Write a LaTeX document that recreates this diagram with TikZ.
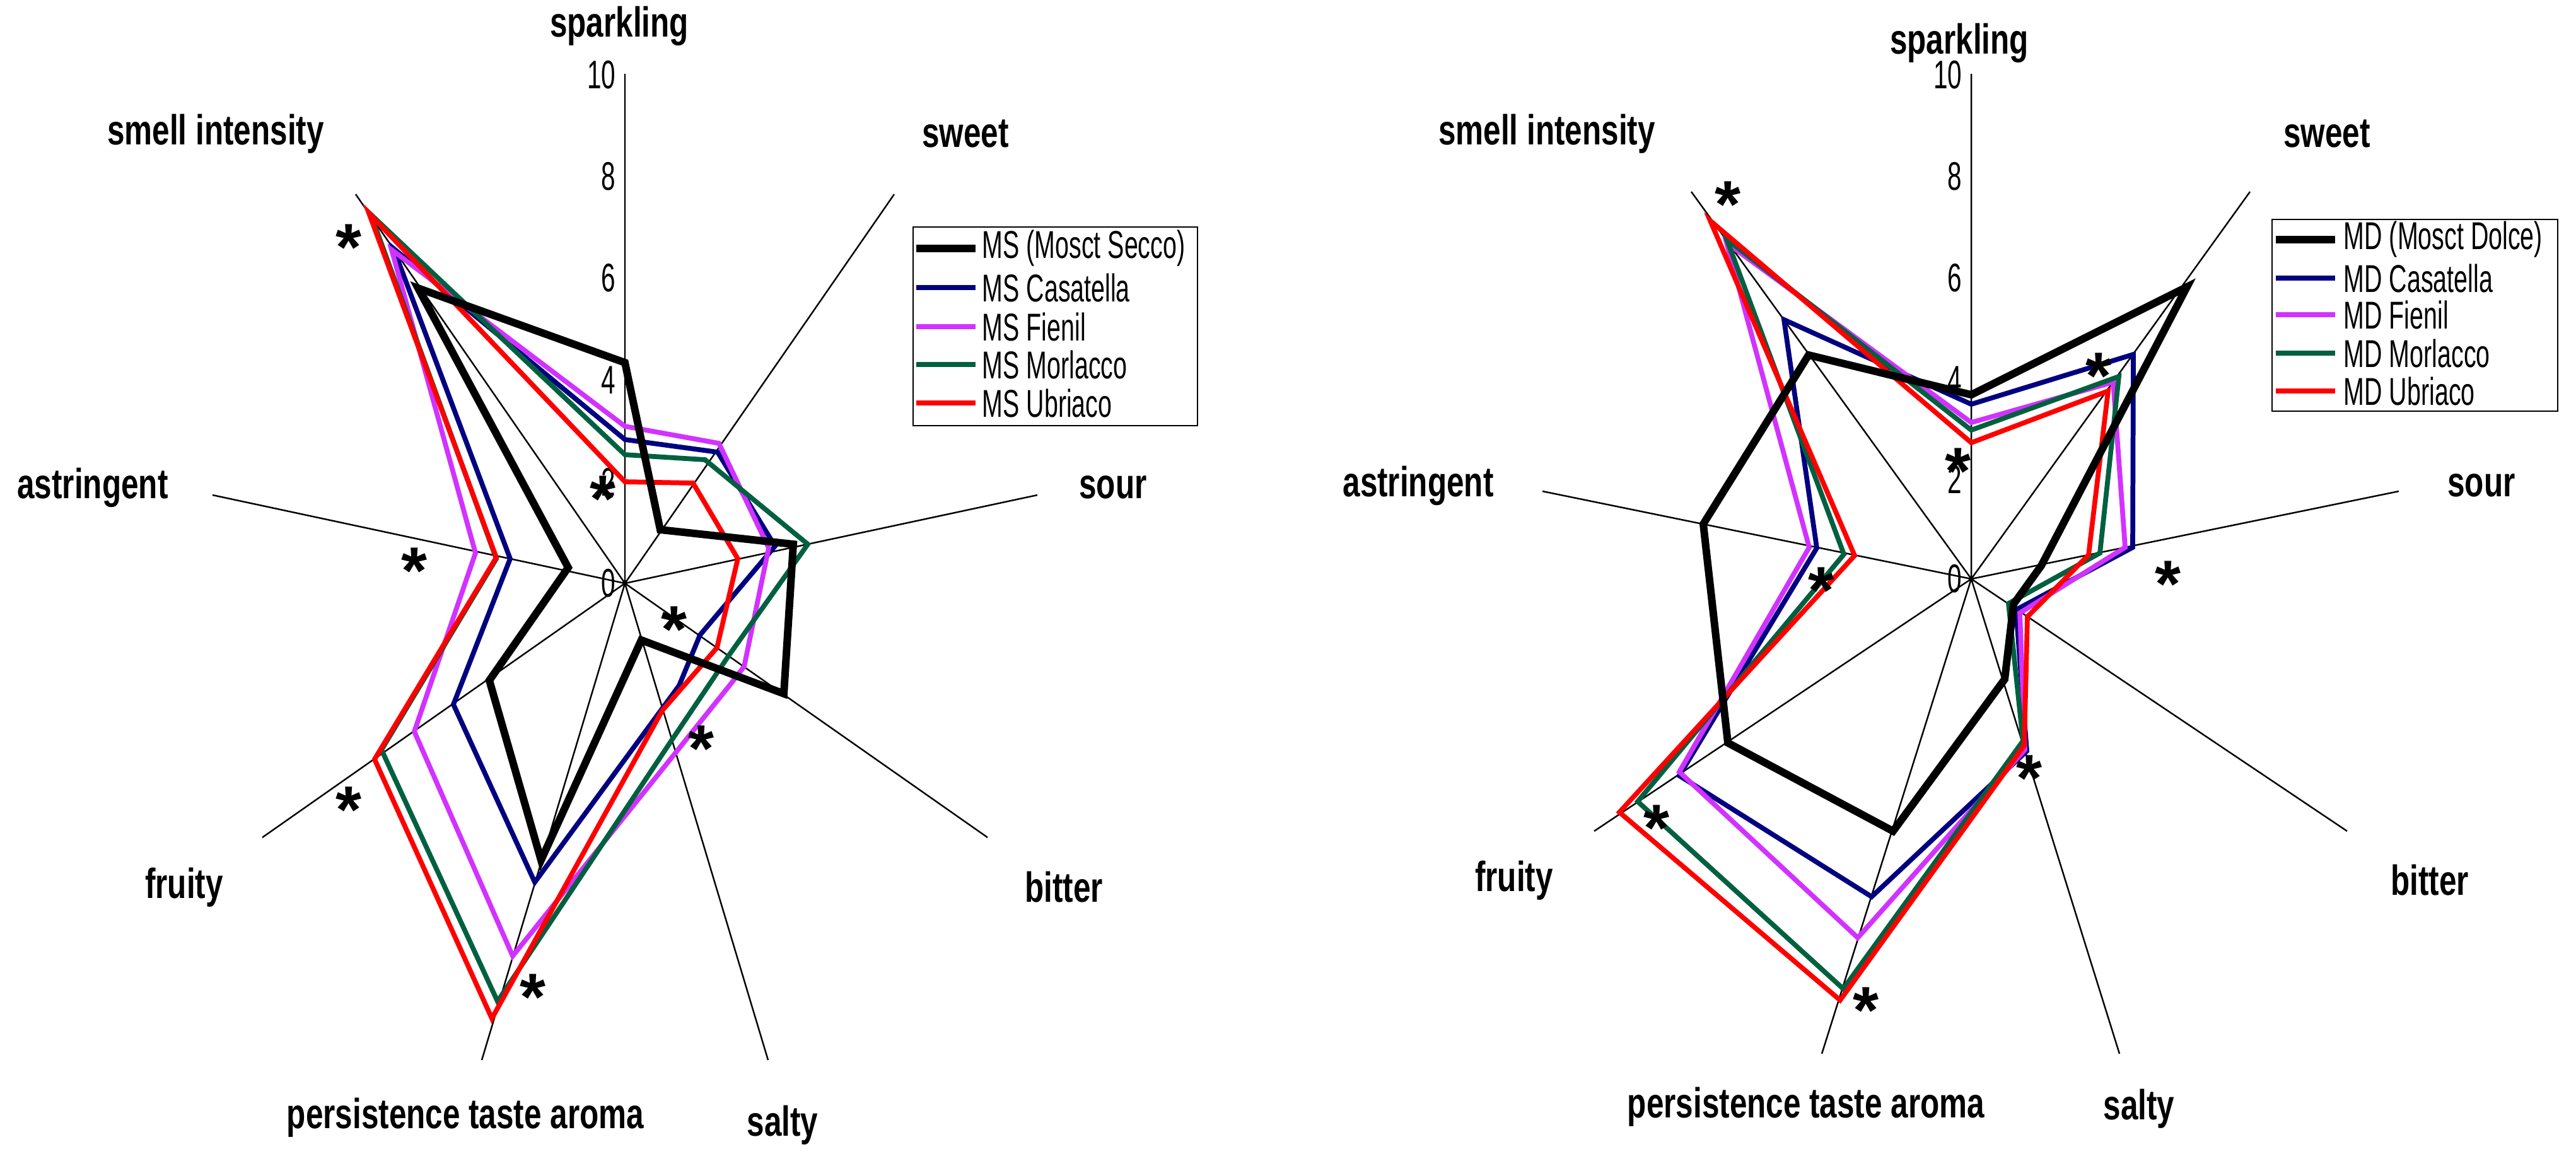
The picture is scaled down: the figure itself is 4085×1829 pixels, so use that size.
\documentclass[tikz,border=0pt]{standalone}
\usepackage{fontspec}
\setmainfont{Liberation Sans}
\newfontfamily\lblfont{Liberation Sans}[FakeStretch=0.74]
\newfontfamily\numfont{Liberation Sans}[FakeStretch=0.64]
\usetikzlibrary{calc}
\definecolor{mdblue}{RGB}{0,0,128}
\definecolor{mdpink}{RGB}{210,50,255}
\definecolor{mdgreen}{RGB}{0,96,64}
\tikzset{%
  % Specifications for style of nodes:
        axislabel/.style = {font=\lblfont\bfseries\fontsize{19}{20}\selectfont, inner sep=0pt},
         ticklabel/.style = {font=\numfont\fontsize{18}{18}\selectfont, anchor=east, inner sep=0pt},
        legendtext/.style = {font=\numfont\fontsize{17.5}{18}\selectfont, anchor=west, inner sep=0pt},
              star/.style = {font=\bfseries\fontsize{30}{30}\selectfont, inner sep=0pt},
              axis/.style = {black, line width=0.7pt},
  % Specifications for style of series:
        muscato/.style = {black, line width=3.4pt, line join=miter},
      casatella/.style = {mdblue, line width=2.2pt},
         fienil/.style = {mdpink, line width=2.2pt},
       morlacco/.style = {mdgreen, line width=2.2pt},
        ubriaco/.style = {red, line width=2.2pt},
}
\begin{document}
\begin{tikzpicture}[x=0.01cm, y=-0.01cm]
  \useasboundingbox (0,0) rectangle (4085,1829);
  \fill[white] (0,0) rectangle (4085,1829);

  % Left chart: axes
  \coordinate (msC) at (991,925);
  \draw[axis] (msC) -- (991,117)  (msC) -- (1418,308) (msC) -- (1645,785)
              (msC) -- (1566,1328) (msC) -- (1218,1681) (msC) -- (764,1681)
              (msC) -- (416,1328)  (msC) -- (337,785)   (msC) -- (564,308);
  \foreach \v/\y in {0/925,2/764,4/603,6/441,8/280,10/119}
    \node[ticklabel] at (977,\y) {\v};

  % Left chart: series
  \draw[casatella] (991,697) -- (1138,717) -- (1229,866) -- (1110,1007) -- (1077,1087)
        -- (848,1399) -- (719,1117) -- (809,886) -- (624,394) -- cycle;
  \draw[fienil] (991,676) -- (1140,703) -- (1219,869) -- (1180,1057) -- (1160,1083)
        -- (813,1516) -- (657,1160) -- (754,877) -- (621,396) -- cycle;
  \draw[morlacco] (991,721) -- (1118,729) -- (1281,863) -- (1156,1039) -- (1065,1174)
        -- (789,1588) -- (605,1189) -- (787,886) -- (588,340) -- cycle;
  \draw[ubriaco] (991,764) -- (1099,766) -- (1170,886) -- (1137,1027) -- (1050,1127)
        -- (780,1615) -- (594,1204) -- (787,884) -- (585,338) -- cycle;
  \draw[muscato] (991,575) -- (1047,840) -- (1258,863) -- (1243,1100) -- (1017,1015)
        -- (858,1364) -- (776,1079) -- (901,900) -- (663,457) -- cycle;

  % Left chart: labels
  \node (msSparkling)   [axislabel] at (982,41)    {sparkling};
  \node (msSweet)       [axislabel] at (1531,212)  {sweet};
  \node (msSour)        [axislabel] at (1765,773)  {sour};
  \node (msBitter)      [axislabel] at (1687,1407) {bitter};
  \node (msSalty)       [axislabel] at (1241,1784) {salty};
  \node (msPersistence) [axislabel] at (738,1772)  {persistence taste aroma};
  \node (msFruity)      [axislabel] at (292,1407)  {fruity};
  \node (msAstringent)  [axislabel] at (147,773)   {astringent};
  \node (msSmell)       [axislabel] at (342,212)   {smell intensity};
  \foreach \p in {(553,392),(956,791),(657,905),(1069,998),(1112,1187),(553,1284),(845,1581)}
    \node[star] at \p {*};

  % Left chart: legend
  \node (msLegend) [draw=black, line width=0.6pt, minimum width=4.51cm, minimum height=3.15cm,
        anchor=north west, inner sep=0pt] at (1447,359) {};
  \draw[muscato]   (1453,394) -- (1547,394); \node[legendtext] at (1557,394) {MS (Mosct Secco)};
  \draw[casatella] (1453,456) -- (1547,456); \node[legendtext] at (1557,456) {MS Casatella};
  \draw[fienil]    (1453,518) -- (1547,518); \node[legendtext] at (1557,518) {MS Fienil};
  \draw[morlacco]  (1453,578) -- (1547,578); \node[legendtext] at (1557,578) {MS Morlacco};
  \draw[ubriaco]   (1453,639) -- (1547,639); \node[legendtext] at (1557,639) {MS Ubriaco};

  % Right chart: axes
  \coordinate (mdC) at (3126,918);
  \draw[axis] (mdC) -- (3126,117)  (mdC) -- (3568,304) (mdC) -- (3804,779)
              (mdC) -- (3722,1318) (mdC) -- (3361,1671) (mdC) -- (2889,1671)
              (mdC) -- (2528,1318) (mdC) -- (2446,779)  (mdC) -- (2682,304);
  \foreach \v/\y in {0/918,2/760,4/603,6/441,8/280,10/119}
    \node[ticklabel] at (3112,\y) {\v};

  % Right chart: series
  \draw[casatella] (3126,641) -- (3383,562) -- (3382,868) -- (3197,967) -- (3214,1191)
        -- (2968,1422) -- (2663,1230) -- (2881,869) -- (2829,507) -- cycle;
  \draw[fienil] (3126,670) -- (3351,606) -- (3370,868) -- (3203,972) -- (3211,1189)
        -- (2946,1487) -- (2663,1224) -- (2869,868) -- (2738,385) -- cycle;
  \draw[morlacco] (3126,682) -- (3360,597) -- (3330,877) -- (3185,957) -- (3208,1175)
        -- (2923,1568) -- (2597,1271) -- (2924,879) -- (2738,379) -- cycle;
  \draw[ubriaco] (3126,702) -- (3343,620) -- (3312,880) -- (3215,978) -- (3210,1182)
        -- (2918,1586) -- (2568,1288) -- (2941,881) -- (2712,350) -- cycle;
  \draw[muscato] (3126,626) -- (3468,455) -- (3237,897) -- (3193,958) -- (3179,1077)
        -- (3002,1318) -- (2740,1178) -- (2701,831) -- (2868,563) -- cycle;

  % Right chart: labels
  \node (mdSparkling)   [axislabel] at (3107,68)   {sparkling};
  \node (mdSweet)       [axislabel] at (3690,212)  {sweet};
  \node (mdSour)        [axislabel] at (3935,770)  {sour};
  \node (mdBitter)      [axislabel] at (3853,1396) {bitter};
  \node (mdSalty)       [axislabel] at (3392,1758) {salty};
  \node (mdPersistence) [axislabel] at (2864,1755) {persistence taste aroma};
  \node (mdFruity)      [axislabel] at (2401,1396) {fruity};
  \node (mdAstringent)  [axislabel] at (2249,770)  {astringent};
  \node (mdSmell)       [axislabel] at (2453,212)  {smell intensity};
  \foreach \p in {(2740,324),(3328,596),(3105,747),(3438,926),(2888,936),(3218,1234),(2627,1313),(2959,1602)}
    \node[star] at \p {*};

  % Right chart: legend
  \node (mdLegend) [draw=black, line width=0.6pt, minimum width=4.53cm, minimum height=3.04cm,
        anchor=north west, inner sep=0pt] at (3602,347) {};
  \draw[muscato]   (3609,380) -- (3703,380); \node[legendtext] at (3716,380) {MD (Mosct Dolce)};
  \draw[casatella] (3609,441) -- (3703,441); \node[legendtext] at (3716,441) {MD Casatella};
  \draw[fienil]    (3609,499) -- (3703,499); \node[legendtext] at (3716,499) {MD Fienil};
  \draw[morlacco]  (3609,560) -- (3703,560); \node[legendtext] at (3716,560) {MD Morlacco};
  \draw[ubriaco]   (3609,620) -- (3703,620); \node[legendtext] at (3716,620) {MD Ubriaco};
\end{tikzpicture}
\end{document}
